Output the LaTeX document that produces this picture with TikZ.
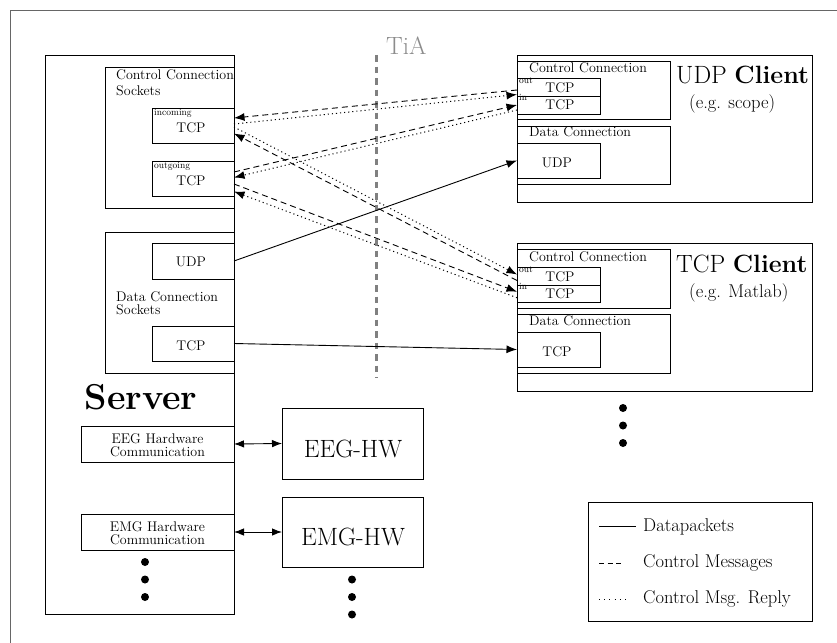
\documentclass[tikz,border=0pt]{standalone}
\usepackage{fontspec}
\usetikzlibrary{arrows.meta,calc,fit}
\begin{document}
\begin{tikzpicture}[x=1pt,y=-1pt,
  box/.style={draw=black, line width=0.9pt, inner sep=0pt, outer sep=0pt},
  lbl/.style={inner sep=0pt, anchor=base west},
  ctr/.style={inner sep=0pt, anchor=base},
  fsml/.style={font=\fontsize{14}{14}\selectfont},
  ftiny/.style={font=\fontsize{9.5}{9.5}\selectfont},
  fmid/.style={font=\fontsize{18.5}{18.5}\selectfont},
  fbig/.style={font=\fontsize{25}{25}\selectfont},
  dotn/.style={circle, fill=black, inner sep=0pt, minimum size=8pt},
  tip/.style={-{Latex[length=10.5pt,width=8pt]}},
  ddtip/.style={{Latex[length=10pt,width=7.5pt]}-{Latex[length=10pt,width=7.5pt]}},
  conn/.style={line width=0.9pt},
  dsh/.style={conn, dash pattern=on 6pt off 4pt},
  dtt/.style={line width=1pt, dash pattern=on 1.1pt off 3pt},
  frame/.style={draw=black!60, line width=1pt}
]
\useasboundingbox (0,0) rectangle (837,642);
\clip (0,0) rectangle (837,642);
\draw[frame] (10,11) rectangle (870,680);

% ---------- Server ----------
\node[box, fit={(45,55) (234,614)}] (server) {};
\node[box, fit={(105,67) (234,208)}] (ccs) {};
\node[lbl,fsml] (ccsA) at (116,79) {Control Connection};
\node[lbl,fsml] (ccsB) at (116,95.7) {Sockets};
\node[box, fit={(152,108) (234,143)}] (sin) {};
\node[lbl,ftiny] (sinl) at (154,115) {incoming};
\node[ctr,fsml] (sint) at (191,132) {TCP};
\node[box, fit={(152,161) (234,196)}] (sout) {};
\node[lbl,ftiny] (soutl) at (154,168) {outgoing};
\node[ctr,fsml] (soutt) at (191,185) {TCP};

\node[box, fit={(105,232) (234,373)}] (dcs) {};
\node[box, fit={(152,243) (234,279)}] (sudp) {};
\node[ctr,fsml] (sudpt) at (191,266.7) {UDP};
\node[lbl,fsml] (dcsA) at (116,301.5) {Data Connection};
\node[lbl,fsml] (dcsB) at (116,314.5) {Sockets};
\node[box, fit={(152,326) (234,361)}] (stcp) {};
\node[ctr,fsml] (stcpt) at (191,350) {TCP};

\node[ctr, font=\fontsize{36}{36}\selectfont\bfseries] (srvl) at (141,409) {Server};

\node[box, fit={(81,426) (234,462)}] (eegc) {};
\node[ctr,fsml] (eegcA) at (157.5,443.5) {EEG Hardware};
\node[ctr,fsml] (eegcB) at (157.5,456) {Communication};
\node[box, fit={(81,514) (234,550)}] (emgc) {};
\node[ctr,fsml] (emgcA) at (157.5,531.5) {EMG Hardware};
\node[ctr,fsml] (emgcB) at (157.5,544) {Communication};
\node[dotn] (sd1) at (145,562) {};
\node[dotn] (sd2) at (145,579.5) {};
\node[dotn] (sd3) at (145,597) {};

% ---------- Hardware ----------
\node[box, fit={(282,408) (423,479)}] (eeghw) {};
\node[ctr,fbig] (eeghwt) at (353,457) {EEG-HW};
\node[box, fit={(282,497) (423,567)}] (emghw) {};
\node[ctr,fbig] (emghwt) at (353,545) {EMG-HW};
\node[dotn] (hd1) at (352,579.5) {};
\node[dotn] (hd2) at (352,597) {};
\node[dotn] (hd3) at (352,614.5) {};

\draw[conn, ddtip] (eegc.east) -- (eeghw.west);
\draw[conn, ddtip] (emgc.east) -- (emghw.west);

% ---------- TiA ----------
\coordinate (tiaTop) at (376,55);
\coordinate (tiaBot) at (376,378);
\draw[draw=black!50, line width=3pt, dash pattern=on 6.5pt off 5pt] (tiaTop) -- (tiaBot);
\node[lbl, fbig, text=black!45] (tia) at (386,55) {TiA};

% ---------- UDP Client ----------
\node[box, fit={(517,55) (812,202)}] (udpc) {};
\node[box, fit={(517,61) (670,119)}] (uctrl) {};
\node[lbl,fsml] (uctrlt) at (529,73) {Control Connection};
\node[box, fit={(517,78) (600,96)}] (ucout) {};
\node[lbl,ftiny] (ucoutl) at (519,83) {out};
\node[ctr,fsml] (ucoutt) at (560,92.3) {TCP};
\node[box, fit={(517,96) (600,114)}] (ucin) {};
\node[lbl,ftiny] (ucinl) at (519,100.5) {in};
\node[ctr,fsml] (ucint) at (560,109.5) {TCP};
\node[box, fit={(517,126) (670,184)}] (udata) {};
\node[lbl,fsml] (udatat) at (529,136.7) {Data Connection};
\node[box, fit={(517,143) (600,178)}] (ucudp) {};
\node[ctr,fsml] (ucudpt) at (557,167.7) {UDP};
\node[lbl,fbig] (udpct) at (676,83) {UDP \textbf{Client}};
\node[lbl,fmid] (udpce) at (689,108) {(e.g. scope)};

% ---------- TCP Client ----------
\node[box, fit={(517,243) (812,391)}] (tcpc) {};
\node[box, fit={(517,249) (670,308)}] (tctrl) {};
\node[lbl,fsml] (tctrlt) at (529,261) {Control Connection};
\node[box, fit={(517,267) (600,285)}] (tcout) {};
\node[lbl,ftiny] (tcoutl) at (519,272) {out};
\node[ctr,fsml] (tcoutt) at (560,281) {TCP};
\node[box, fit={(517,285) (600,302.5)}] (tcin) {};
\node[lbl,ftiny] (tcinl) at (519,289.5) {in};
\node[ctr,fsml] (tcint) at (560,298.3) {TCP};
\node[box, fit={(517,314) (670,373)}] (tdata) {};
\node[lbl,fsml] (tdatat) at (529,325.5) {Data Connection};
\node[box, fit={(517,332) (600,367)}] (tctcp) {};
\node[ctr,fsml] (tctcpt) at (557,356.5) {TCP};
\node[lbl,fbig] (tcpct) at (676,272.5) {TCP \textbf{Client}};
\node[lbl,fmid] (tcpce) at (689,297) {(e.g. Matlab)};
\node[dotn] (cd1) at (623,408) {};
\node[dotn] (cd2) at (623,425.5) {};
\node[dotn] (cd3) at (623,443) {};

% ---------- Connectors ----------
\draw[conn, tip] (sudp.east) -- (ucudp.west);
\draw[conn, tip] (stcp.east) -- (tctcp.west);

% pair A: server incoming <-> UDP client out
\draw[dsh, tip] ($(ucout.west)+(0,3)$) -- ($(sin.east)+(0,-7.5)$);
\draw[dtt, tip] ($(sin.east)+(0,-1.5)$) -- ($(ucout.west)+(0,7.5)$);
% pair B: server outgoing <-> UDP client in
\draw[dsh, tip] ($(sout.east)+(0,-6.5)$) -- ($(ucin.west)+(0,0)$);
\draw[dtt, tip] ($(ucin.west)+(0,5)$) -- ($(sout.east)+(0,-1)$);
% pair C: server incoming <-> TCP client out
\draw[dtt, tip] ($(sin.east)+(0,1.5)$) -- ($(tcout.west)+(0,-1.5)$);
\draw[dsh, tip] ($(tcout.west)+(0,4.5)$) -- ($(sin.east)+(0,8)$);
% pair D: server outgoing <-> TCP client in
\draw[dsh, tip] ($(sout.east)+(0,5.5)$) -- ($(tcin.west)+(0,-2)$);
\draw[dtt, tip] ($(tcin.west)+(0,4)$) -- ($(sout.east)+(0,13)$);

% ---------- Legend ----------
\node[box, fit={(588,502) (812,621)}] (legend) {};
\coordinate (l1a) at (599,526); \coordinate (l1b) at (636,526);
\coordinate (l2a) at (599,563); \coordinate (l2b) at (622,563);
\coordinate (l3a) at (599,599); \coordinate (l3b) at (630,599);
\draw[conn] (l1a) -- (l1b);
\draw[conn, dash pattern=on 5pt off 3.5pt] (l2a) -- (l2b);
\draw[line width=0.6pt, dash pattern=on 1pt off 4.2pt] (l3a) -- (l3b);
\node[lbl,fmid] (lt1) at (643,531.7) {Datapackets};
\node[lbl,fmid] (lt2) at (643,567.7) {Control Messages};
\node[lbl,fmid] (lt3) at (643,603.3) {Control Msg. Reply};
\end{tikzpicture}
\end{document}
